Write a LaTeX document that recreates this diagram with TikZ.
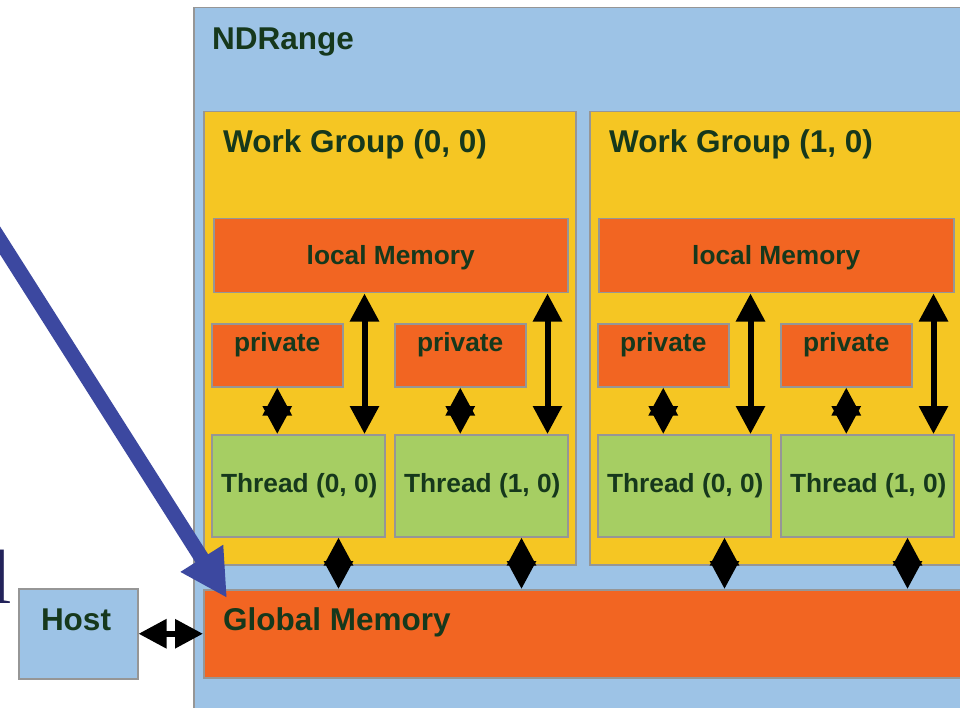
\documentclass[tikz,border=0pt]{standalone}
\usepackage{fontspec}
\setmainfont{Liberation Sans}
\newfontfamily\seriffont{Liberation Serif}
\usetikzlibrary{arrows.meta,calc}
\definecolor{ndblue}{RGB}{157,195,230}
\definecolor{wgyellow}{RGB}{245,198,35}
\definecolor{memorange}{RGB}{242,101,34}
\definecolor{thgreen}{RGB}{166,206,99}
\definecolor{bordergray}{RGB}{150,150,150}
\definecolor{txtgreen}{RGB}{22,56,28}
\definecolor{arrowblue}{RGB}{60,72,160}
\definecolor{navyl}{RGB}{35,35,90}
\begin{document}
\begin{tikzpicture}[x=1pt,y=-1pt,
  box/.style={draw=bordergray, line width=1.5pt, inner sep=0pt, anchor=north west},
  ndbox/.style={box, fill=ndblue},
  wgbox/.style={box, fill=wgyellow, minimum width=372pt, minimum height=453pt},
  lmbox/.style={box, fill=memorange, minimum width=354pt, minimum height=74pt},
  pvbox/.style={box, fill=memorange, minimum width=131pt, minimum height=63pt},
  thbox/.style={box, fill=thgreen, minimum width=173pt, minimum height=102pt},
  bigtxt/.style={text=txtgreen, font=\fontsize{31.5}{36}\selectfont\bfseries, inner sep=0pt},
  smalltxt/.style={text=txtgreen, font=\fontsize{26.3}{30}\selectfont\bfseries, inner sep=0pt},
  dbl/.style={line width=6pt, {Triangle[width=28pt,length=28pt]}-{Triangle[width=28pt,length=28pt]}},
  bluearrow/.style={draw=arrowblue, line width=15pt, -{Triangle[width=47pt,length=47pt]}},
]
\useasboundingbox (0,0) rectangle (960,708);
\clip (0,0) rectangle (960,708);
\fill[white] (0,0) rectangle (960,708);

% NDRange
\node[ndbox, minimum width=850pt, minimum height=750pt] (nd) at (193,7) {};
\node[bigtxt, anchor=base west] (ndl) at (212,49.5) {NDRange};

% Work groups
\node[wgbox] (wg0) at (203,111) {};
\node[wgbox] (wg1) at (589,111) {};
\node[bigtxt, anchor=base west] (wg0l) at (223,153) {Work Group (0, 0)};
\node[bigtxt, anchor=base west] (wg1l) at (609,153) {Work Group (1, 0)};

% local memories
\node[lmbox] (lm0) at (213,218) {};
\node[lmbox, minimum width=355pt] (lm1) at (598,218) {};
\node[smalltxt, anchor=base] (lm0l) at ($(lm0.north)+(0,47)$) {local Memory};
\node[smalltxt, anchor=base] (lm1l) at ($(lm1.north)+(0,47)$) {local Memory};

% private memories
\node[pvbox] (pv00) at (211,323) {};
\node[pvbox] (pv01) at (394,323) {};
\node[pvbox] (pv10) at (597,323) {};
\node[pvbox] (pv11) at (780,323) {};
\foreach \p in {pv00,pv01,pv10,pv11}{
  \node[smalltxt, anchor=base] (\p l) at ($(\p.north)+(0,28)$) {private};
}

% threads
\node[thbox] (th00) at (211,434) {};
\node[thbox] (th01) at (394,434) {};
\node[thbox] (th10) at (597,434) {};
\node[thbox] (th11) at (780,434) {};
\node[smalltxt, anchor=base] (th00l) at ($(th00.north)+(1,58)$) {Thread (0, 0)};
\node[smalltxt, anchor=base] (th01l) at ($(th01.north)+(1,58)$) {Thread (1, 0)};
\node[smalltxt, anchor=base] (th10l) at ($(th10.north)+(1,58)$) {Thread (0, 0)};
\node[smalltxt, anchor=base] (th11l) at ($(th11.north)+(1,58)$) {Thread (1, 0)};

% global memory and host
\node[box, fill=memorange, minimum width=800pt, minimum height=88pt] (gm) at (203,589) {};
\node[bigtxt, anchor=base west] (gml) at (223,630.5) {Global Memory};
\node[box, fill=ndblue, minimum width=119pt, minimum height=90pt] (host) at (18,588) {};
\node[bigtxt, anchor=base] (hostl) at (76,630) {Host};

% partial serif letter at the left edge
\node[text=navyl, font=\seriffont\fontsize{77}{80}\selectfont, inner sep=0pt, anchor=base west] (ll) at (-10,603) {l};

% private <-> thread
\foreach \p/\t in {pv00/th00,pv01/th01,pv10/th10,pv11/th11}{
  \draw[dbl] (\p.south) -- (\p.south |- \t.north);
}
% local memory <-> thread
\foreach \t/\l in {th00/lm0,th01/lm0,th10/lm1,th11/lm1}{
  \coordinate (\t a) at ($(\t.north east)+(-21,0)$);
  \draw[dbl] (\t a |- \l.south) -- (\t a);
}
% thread <-> global memory
\foreach \t in {th00,th01,th10,th11}{
  \coordinate (\t b) at ($(\t.south east)+(-47,0)$);
  \draw[dbl] (\t b) -- (\t b |- gm.north);
}
% host <-> global memory
\draw[dbl] (host.east) -- (host.east -| gm.west);

% blue pointer arrow
\coordinate (bs) at (-25,201);
\coordinate (bt) at (227,598);
\draw[bluearrow] (bs) -- (bt);
\end{tikzpicture}
\end{document}
